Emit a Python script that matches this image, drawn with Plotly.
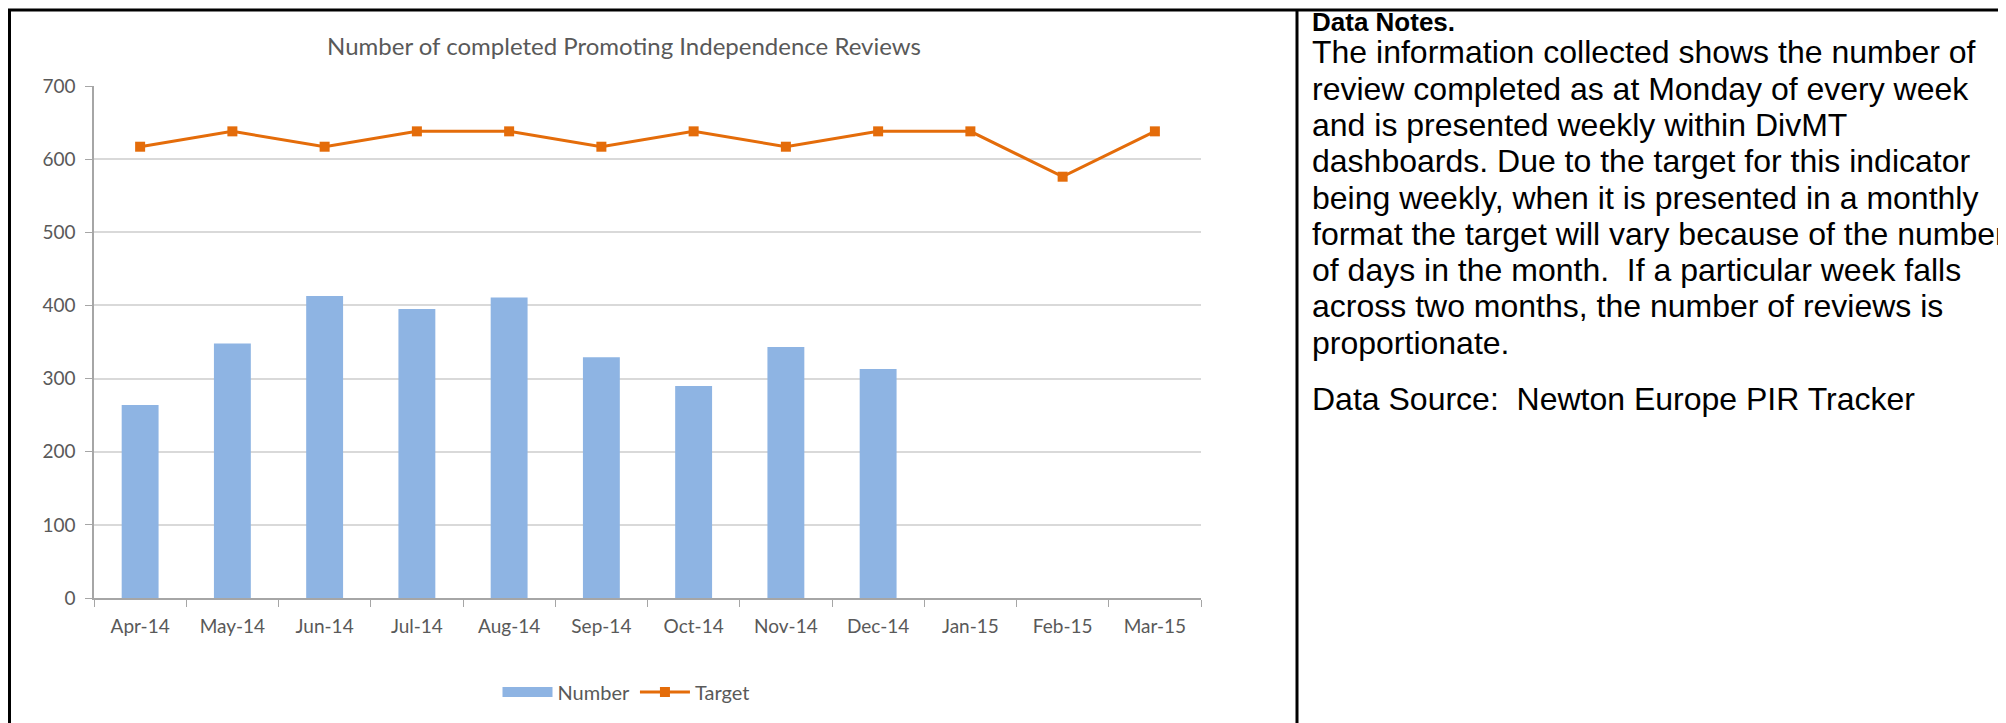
import plotly.graph_objects as go

# monthly values
months = ["Apr-14", "May-14", "Jun-14", "Jul-14", "Aug-14", "Sep-14",
          "Oct-14", "Nov-14", "Dec-14", "Jan-15", "Feb-15", "Mar-15"]
number = [264, 348, 413, 395, 411, 329, 290, 343, 313, None, None, None]
target = [617, 638, 617, 638, 638, 617, 638, 617, 638, 638, 576, 638]

title = "Number of completed Promoting Independence Reviews"
notes_heading = "Data Notes."
notes_lines = [
    "The information collected shows the number of",
    "review completed as at Monday of every week",
    "and is presented weekly within DivMT",
    "dashboards. Due to the target for this indicator",
    "being weekly, when it is presented in a monthly",
    "format the target will vary because of the number",
    "of days in the month.  If a particular week falls",
    "across two months, the number of reviews is",
    "proportionate.",
]
source_line = "Data Source:  Newton Europe PIR Tracker"

# the page body has an 8px margin, so the figure is sized to fit inside it
OFF = 8
W, H = 2006 - OFF, 723 - OFF
CHART_FONT = "Lato, Open Sans, sans-serif"
TEXT_FONT = "Liberation Sans, Arial, sans-serif"
GREY_TEXT = "#595959"
BAR_BLUE = "#8EB4E3"
ORANGE = "#E46C0A"


def fx(page_x):
    return (page_x - OFF) / W


def fy(page_y):
    return 1 - (page_y - OFF) / H


fig = go.Figure()
fig.add_trace(go.Bar(x=months, y=number, name="Number", showlegend=False,
                     marker=dict(color=BAR_BLUE, line=dict(width=0))))
# legend-only entry so the bar swatch is a wide block like Excel's
fig.add_trace(go.Scatter(x=[None], y=[None], name="Number", mode="lines",
                         line=dict(color=BAR_BLUE, width=12)))
fig.add_trace(go.Scatter(x=months, y=target, name="Target", mode="lines+markers",
                         line=dict(color=ORANGE, width=3),
                         marker=dict(symbol="square", size=10, color=ORANGE)))

fig.update_layout(
    width=W, height=H, autosize=False,
    margin=dict(l=0, r=0, t=0, b=0, pad=0, autoexpand=False),
    paper_bgcolor="white", plot_bgcolor="white",
    bargap=0.6,
    font=dict(family=CHART_FONT, color=GREY_TEXT, size=19),
    title=dict(text=title, x=fx(624), y=fy(47), xanchor="center", yanchor="middle",
               font=dict(family=CHART_FONT, size=24, color=GREY_TEXT)),
    legend=dict(orientation="h", x=fx(626), y=fy(692), xanchor="center",
                yanchor="middle", font=dict(size=20, color=GREY_TEXT),
                itemwidth=50, traceorder="normal"),
    xaxis=dict(domain=[fx(94), fx(1201)], type="category", automargin=False,
               range=[-0.5, 11.5], showline=True, linecolor="#A6A6A6", linewidth=1.5,
               ticks="outside", tickson="boundaries", ticklen=7, tickcolor="#A6A6A6",
               ticklabelstandoff=10, showgrid=False,
               tickfont=dict(size=19, color=GREY_TEXT)),
    yaxis=dict(domain=[fy(598), fy(86)], range=[0, 700], dtick=100, automargin=False,
               showline=True, linecolor="#A6A6A6", linewidth=1.5,
               ticks="outside", ticklen=7, tickcolor="#A6A6A6",
               gridcolor="#D9D9D9", gridwidth=1.5, zeroline=False,
               ticklabelstandoff=6, tickfont=dict(size=19, color=GREY_TEXT)),
)

# table borders around the chart and the notes panel
border = dict(color="black", width=3)
top_y = fy(10)
fig.add_shape(type="line", xref="paper", yref="paper", x0=0, x1=1, y0=top_y, y1=top_y, line=border)
fig.add_shape(type="line", xref="paper", yref="paper", x0=fx(9.5), x1=fx(9.5), y0=0, y1=top_y, line=border)
fig.add_shape(type="line", xref="paper", yref="paper", x0=fx(1297), x1=fx(1297), y0=0, y1=top_y, line=border)

# notes text, one annotation per line so the spacing matches single spacing
text_x = fx(1310)
line_step = 36.3
first_y = 16
note_font = dict(family=TEXT_FONT, size=32, color="black")
fig.add_annotation(xref="paper", yref="paper", x=text_x, y=fy(22),
                   xanchor="left", yanchor="middle", showarrow=False,
                   text="<b>" + notes_heading + "</b>",
                   font=dict(family=TEXT_FONT, size=26, color="black"))
for i, line in enumerate(notes_lines):
    fig.add_annotation(xref="paper", yref="paper", x=text_x,
                       y=fy(first_y + (i + 1) * line_step),
                       xanchor="left", yanchor="middle", showarrow=False, text=line,
                       font=note_font)
fig.add_annotation(xref="paper", yref="paper", x=text_x, y=fy(399),
                   xanchor="left", yanchor="middle", showarrow=False, text=source_line,
                   font=note_font)

fig.write_html("out.html")
